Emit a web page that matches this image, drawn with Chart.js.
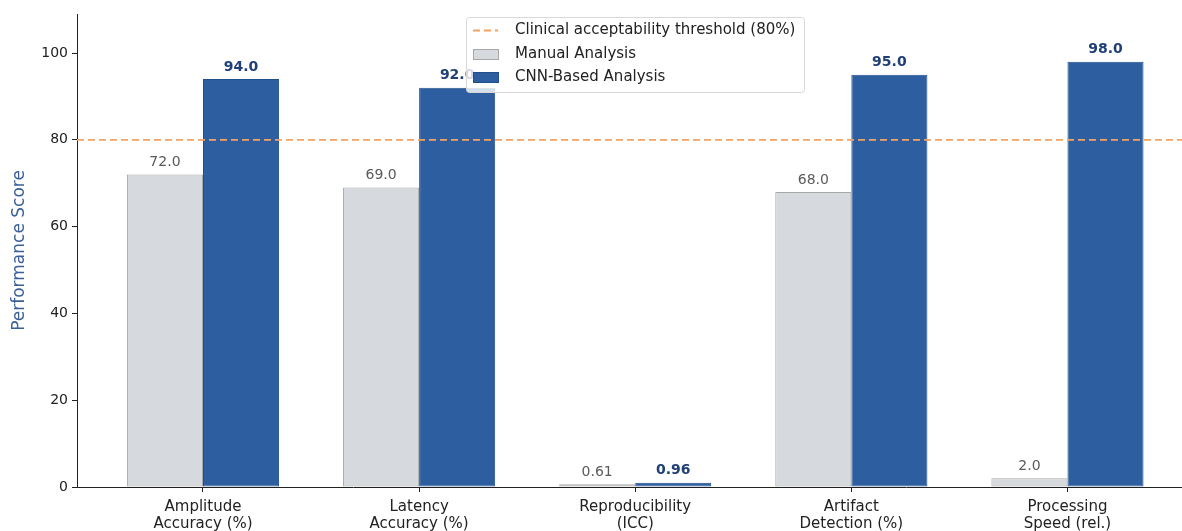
<!DOCTYPE html>
<html>
<head>
<meta charset="utf-8">
<script src="https://cdn.jsdelivr.net/npm/chart.js@4.4.1/dist/chart.umd.min.js"></script>
<style>
  html, body { margin: 0; padding: 0; background: #fff; }
  #wrap { width: 1182px; height: 531px; }
</style>
</head>
<body>
<div id="wrap"><canvas id="barChart" width="1182" height="531"></canvas></div>
<script>
"use strict"

var categories = [
  ["Amplitude", "Accuracy (%)"],
  ["Latency", "Accuracy (%)"],
  ["Reproducibility", "(ICC)"],
  ["Artifact", "Detection (%)"],
  ["Processing", "Speed (rel.)"]
];
var manualValues = [72.0, 69.0, 0.61, 68.0, 2.0];
var cnnValues = [94.0, 92.0, 0.96, 95.0, 98.0];
var manualLabels = ["72.0", "69.0", "0.61", "68.0", "2.0"];
var cnnLabels = ["94.0", "92.0", "0.96", "95.0", "98.0"];
var yTicks = [0, 20, 40, 60, 80, 100];
var threshold = 80;

var FONT = "'DejaVu Sans', sans-serif";
var xMin = -0.583, xMax = 4.53;

function pts(vals) {
  return vals.map(function(v, i){ return {x: i, y: v}; });
}

// value labels over each bar
var valueLabels = {
  id: 'valueLabels',
  afterDatasetsDraw: function(chart) {
    var ctx = chart.ctx;
    ctx.save();
    ctx.textAlign = 'center';
    ctx.textBaseline = 'bottom';
    var sets = [[1, manualLabels, "14px " + FONT, '#5a5a5a'], [2, cnnLabels, "bold 14px " + FONT, '#1f3f78']];
    sets.forEach(function(s){
      var meta = chart.getDatasetMeta(s[0]);
      ctx.font = s[2];
      ctx.fillStyle = s[3];
      meta.data.forEach(function(bar, i){
        ctx.fillText(s[1][i], bar.x, bar.y - 5);
      });
    });
    ctx.restore();
  }
};

// legend box drawn inside the plot like matplotlib's
var boxLegend = {
  id: 'boxLegend',
  afterDraw: function(chart) {
    var ctx = chart.ctx;
    ctx.save();
    var x = 466, y = 17, w = 338, h = 75;
    ctx.fillStyle = 'rgba(255,255,255,0.8)';
    ctx.strokeStyle = '#d8d8d8';
    ctx.lineWidth = 1;
    ctx.beginPath();
    ctx.roundRect(x + 0.5, y + 0.5, w, h, 3);
    ctx.fill();
    ctx.stroke();

    ctx.font = "15px " + FONT;
    ctx.textBaseline = 'middle';
    ctx.textAlign = 'left';

    // threshold entry
    ctx.strokeStyle = '#f4a261';
    ctx.lineWidth = 1.8;
    ctx.setLineDash([7, 4]);
    ctx.beginPath();
    ctx.moveTo(473, 30.5);
    ctx.lineTo(498, 30.5);
    ctx.stroke();
    ctx.setLineDash([]);
    ctx.fillStyle = '#222';
    ctx.fillText("Clinical acceptability threshold (80%)", 515, 30);

    ctx.fillStyle = '#d6d9de';
    ctx.strokeStyle = '#a8a8a8';
    ctx.lineWidth = 1;
    ctx.fillRect(473, 49, 25, 10);
    ctx.strokeRect(473.5, 49.5, 25, 10);
    ctx.fillStyle = '#222';
    ctx.fillText("Manual Analysis", 515, 54);

    ctx.fillStyle = '#2c5ea0';
    ctx.strokeStyle = '#224f8c';
    ctx.fillRect(473, 72, 25, 10);
    ctx.strokeRect(473.5, 72.5, 25, 10);
    ctx.fillStyle = '#222';
    ctx.fillText("CNN-Based Analysis", 515, 77);
    ctx.restore();
  }
};

var ctxB = document.getElementById("barChart").getContext('2d');
var myBarChart = new Chart(ctxB, {
  type: 'bar',
  data: {
    datasets: [{
      type: 'line',
      label: "Clinical acceptability threshold (80%)",
      data: [{x: xMin, y: threshold}, {x: xMax, y: threshold}],
      borderColor: '#f4a261',
      borderWidth: 1.8,
      borderDash: [7, 4],
      pointRadius: 0,
      fill: false,
      order: 0
    },
    {
      label: "Manual Analysis",
      data: pts(manualValues),
      backgroundColor: '#d6d9de',
      borderColor: '#a8a8a8',
      borderWidth: 1,
      borderSkipped: false,
      categoryPercentage: 0.704,
      barPercentage: 1.0,
      order: 1
    },
    {
      label: "CNN-Based Analysis",
      data: pts(cnnValues),
      backgroundColor: '#2c5ea0',
      borderColor: '#224f8c',
      borderWidth: 1,
      borderSkipped: false,
      categoryPercentage: 0.704,
      barPercentage: 1.0,
      order: 2
    }]
  },
  options: {
    responsive: false,
    animation: false,
    layout: { padding: { top: 14, right: 0, left: 0, bottom: 0 } },
    plugins: {
      legend: { display: false },
      tooltip: { enabled: false }
    },
    scales: {
      x: {
        type: 'linear',
        min: xMin,
        max: xMax,
        offset: false,
        afterBuildTicks: function(scale) {
          scale.ticks = categories.map(function(c, i){ return {value: i}; });
        },
        afterFit: function(scale) { scale.height = 44; },
        ticks: {
          autoSkip: false,
          maxRotation: 0,
          color: '#222',
          font: { family: FONT, size: 15, lineHeight: 1.15 },
          padding: 6,
          callback: function(v) { return categories[v]; }
        },
        grid: { offset: false, drawOnChartArea: false, drawTicks: true, tickLength: 5, color: '#222' },
        border: { display: true, color: '#222', width: 1 }
      },
      y: {
        min: 0,
        max: 109,
        afterBuildTicks: function(scale) {
          scale.ticks = yTicks.map(function(v){ return {value: v}; });
        },
        afterFit: function(scale) { scale.width = 77; },
        ticks: {
          color: '#222',
          font: { family: FONT, size: 14 },
          padding: 4
        },
        title: {
          display: true,
          text: "Performance Score",
          color: '#3a5f9a',
          font: { family: FONT, size: 17 },
          padding: { top: 9, bottom: 6 }
        },
        grid: { drawOnChartArea: false, drawTicks: true, tickLength: 5, color: '#222' },
        border: { display: true, color: '#222', width: 1 }
      }
    }
  },
  plugins: [valueLabels, boxLegend]
});
</script>
</body>
</html>
